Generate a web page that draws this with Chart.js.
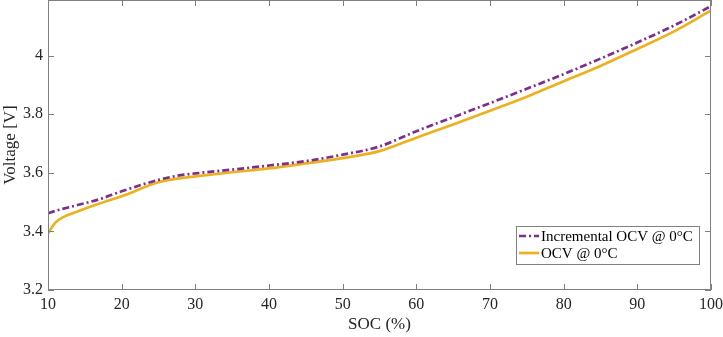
<!DOCTYPE html>
<html>
<head>
<meta charset="utf-8">
<script src="https://cdn.jsdelivr.net/npm/chart.js@4"></script>
<style>
  html, body { margin: 0; padding: 0; background: #fff; }
  #wrap { width: 723px; height: 337px; }
</style>
</head>
<body>
<div id="wrap"><canvas id="myChart" width="723" height="337"></canvas></div>
<script>
const soc = [10, 11, 12, 14, 17, 20, 25, 28, 30, 35, 40, 45, 50, 55, 60, 65, 70, 75, 80, 85, 90, 95, 100];
const incrementalOcv = [3.462, 3.470, 3.477, 3.490, 3.510, 3.537, 3.576, 3.592, 3.598, 3.611, 3.625, 3.640, 3.662, 3.690, 3.742, 3.790, 3.838, 3.887, 3.937, 3.990, 4.045, 4.103, 4.169];
const ocv = [3.394, 3.430, 3.448, 3.468, 3.495, 3.520, 3.568, 3.582, 3.588, 3.602, 3.615, 3.632, 3.650, 3.674, 3.720, 3.765, 3.812, 3.860, 3.913, 3.965, 4.023, 4.083, 4.154];
const seriesLabels = ['Incremental OCV @ 0\u00B0C', 'OCV @ 0\u00B0C'];
const xTicks = [10, 20, 30, 40, 50, 60, 70, 80, 90, 100];
const yTicks = [3.2, 3.4, 3.6, 3.8, 4.0];

const FONT = '"Liberation Serif", "Times New Roman", serif';
const AXIS_GRAY = '#808080';

const toPoints = (ys) => soc.map((x, i) => ({ x: x, y: ys[i] }));

// box round the plot plus inward tick marks, like matlab
const boxAndTicks = {
    id: 'boxAndTicks',
    afterDraw(chart) {
        const { ctx, chartArea: a, scales } = chart;
        ctx.save();
        ctx.strokeStyle = AXIS_GRAY;
        ctx.lineWidth = 1;
        ctx.strokeRect(a.left + 0.5, a.top + 0.5, a.right - a.left - 1, a.bottom - a.top - 1);
        const len = 6;
        ctx.beginPath();
        xTicks.forEach(v => {
            const px = Math.round(scales.x.getPixelForValue(v)) + 0.5;
            ctx.moveTo(px, a.bottom); ctx.lineTo(px, a.bottom - len);
            ctx.moveTo(px, a.top); ctx.lineTo(px, a.top + len);
        });
        yTicks.forEach(v => {
            const py = Math.round(scales.y.getPixelForValue(v)) + 0.5;
            ctx.moveTo(a.left, py); ctx.lineTo(a.left + len, py);
            ctx.moveTo(a.right, py); ctx.lineTo(a.right - len, py);
        });
        ctx.stroke();
        ctx.restore();
    }
};

// legend box in the lower right of the plot
const insideLegend = {
    id: 'insideLegend',
    afterDraw(chart) {
        const ctx = chart.ctx;
        const a = chart.chartArea;
        const w = 184, h = 39;
        const left = a.right - 11 - w, top = 226;
        ctx.save();
        ctx.fillStyle = '#fff';
        ctx.fillRect(left, top, w, h);
        ctx.strokeStyle = AXIS_GRAY;
        ctx.lineWidth = 1;
        ctx.strokeRect(left + 0.5, top + 0.5, w - 1, h - 1);
        ctx.font = '15px ' + FONT;
        ctx.textBaseline = 'middle';
        ctx.fillStyle = '#000';
        chart.data.datasets.forEach((ds, i) => {
            const y = top + 10 + i * 17;
            ctx.strokeStyle = ds.borderColor;
            ctx.lineWidth = ds.borderWidth;
            ctx.setLineDash(ds.borderDash || []);
            ctx.beginPath();
            ctx.moveTo(left + 3, y);
            ctx.lineTo(left + 23, y);
            ctx.stroke();
            ctx.setLineDash([]);
            ctx.fillText(ds.label, left + 25, y + 1);
        });
        ctx.restore();
    }
};

const ctx = document.getElementById('myChart').getContext('2d');
new Chart(ctx, {
    type: 'line',
    data: {
        datasets: [{
            label: seriesLabels[0],
            data: toPoints(incrementalOcv),
            borderColor: '#7E2F8E',
            borderWidth: 2.7,
            borderDash: [7, 3, 2, 3],
            pointRadius: 0,
            cubicInterpolationMode: 'monotone',
            fill: false
        }, {
            label: seriesLabels[1],
            data: toPoints(ocv),
            borderColor: '#EDB120',
            borderWidth: 2.7,
            pointRadius: 0,
            cubicInterpolationMode: 'monotone',
            fill: false
        }]
    },
    options: {
        responsive: false,
        animation: false,
        layout: { padding: { top: 0, right: 12, left: 0, bottom: 0 } },
        plugins: {
            legend: { display: false },
            tooltip: { enabled: false }
        },
        scales: {
            x: {
                type: 'linear',
                min: 10,
                max: 100,
                afterBuildTicks: (s) => { s.ticks = xTicks.map(v => ({ value: v })); },
                afterFit: (s) => {
                    s.height = 47;
                    s.paddingLeft = 0;
                    s.paddingRight = 0;
                },
                grid: { display: false, drawTicks: false },
                border: { display: false },
                ticks: {
                    color: '#262626',
                    font: { family: FONT, size: 16 },
                    padding: 5,
                    maxRotation: 0
                },
                title: {
                    display: true,
                    text: 'SOC (%)',
                    color: '#262626',
                    font: { family: FONT, size: 17 },
                    padding: { top: 0, bottom: 2 }
                }
            },
            y: {
                min: 3.2,
                max: 4.19,
                afterBuildTicks: (s) => { s.ticks = yTicks.map(v => ({ value: v })); },
                afterFit: (s) => {
                    s.width = 48;
                    s.paddingTop = 0;
                    s.paddingBottom = 0;
                },
                grid: { display: false, drawTicks: false },
                border: { display: false },
                ticks: {
                    color: '#262626',
                    font: { family: FONT, size: 16 },
                    padding: 5,
                    callback: (v) => String(+v.toFixed(1))
                },
                title: {
                    display: true,
                    text: 'Voltage [V]',
                    color: '#262626',
                    font: { family: FONT, size: 17 },
                    padding: { top: 0, bottom: 0 }
                }
            }
        }
    },
    plugins: [boxAndTicks, insideLegend]
});
</script>
</body>
</html>
